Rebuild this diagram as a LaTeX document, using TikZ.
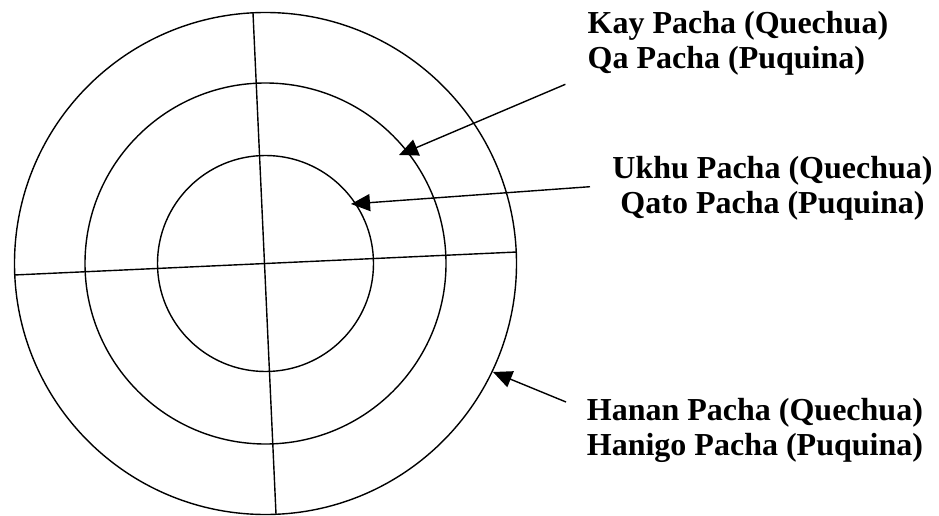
\documentclass[tikz,border=0pt]{standalone}
\usepackage{fontspec}
\setmainfont{Liberation Serif}
\usetikzlibrary{arrows.meta}
\begin{document}
\begin{tikzpicture}[x=1pt,y=-1pt,
  ring/.style={draw=black, line width=1.4pt},
  lbl/.style={font=\fontsize{32}{35}\selectfont\bfseries, inner sep=0pt},
  pointer/.style={draw=black, line width=1.4pt, -{Triangle[length=19pt,width=17pt]}}]
\useasboundingbox (0,0) rectangle (939,516);
\coordinate (c) at (265.5,263.5);
\draw[ring] (c) circle[radius=251pt];
\draw[ring] (c) circle[radius=180.5pt];
\draw[ring] (c) circle[radius=108pt];
\coordinate (vt) at (253,13);
\coordinate (vb) at (276,514);
\coordinate (hl) at (14,275);
\coordinate (hr) at (517,252);
\draw[ring] (vt) -- (vb);
\draw[ring] (hl) -- (hr);
\node[lbl, anchor=base west, align=left] (kay) at (587.5,68.5) {Kay Pacha (Quechua)\\Qa Pacha (Puquina)};
\node[lbl, anchor=base, align=center] (ukhu) at (772.5,213.5) {Ukhu Pacha (Quechua)\\Qato Pacha (Puquina)};
\node[lbl, anchor=base west, align=left] (hanan) at (586.7,455) {Hanan Pacha (Quechua)\\Hanigo Pacha (Puquina)};
\coordinate (kaytail) at (565.4,84.3);
\coordinate (kaytip) at (399,155);
\coordinate (ukhutail) at (590,186.7);
\coordinate (ukhutip) at (351,204);
\coordinate (hanantail) at (566,402);
\coordinate (hanantip) at (493,372);
\draw[pointer] (kaytail) -- (kaytip);
\draw[pointer] (ukhutail) -- (ukhutip);
\draw[pointer] (hanantail) -- (hanantip);
\end{tikzpicture}
\end{document}
